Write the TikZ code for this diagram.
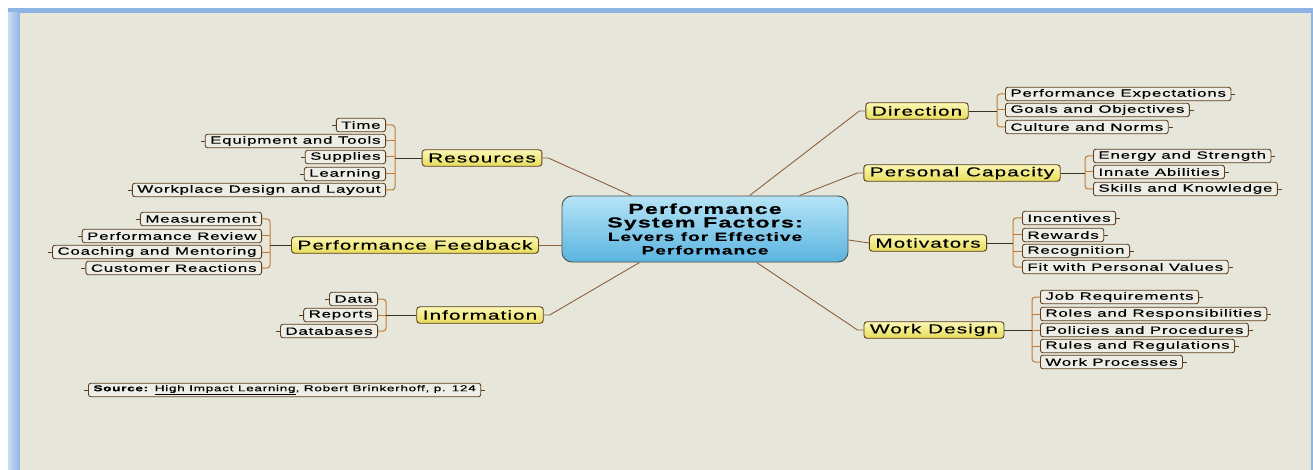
\documentclass[tikz,border=0pt]{standalone}
\usepackage{fontspec}
\setmainfont[FakeStretch=1.6,LetterSpace=8,FakeBold=0.35]{Liberation Sans}
\usetikzlibrary{positioning,calc,shapes}
\definecolor{pagebg}{HTML}{E6E7DA}
\definecolor{framebl}{HTML}{8DB4E2}
\definecolor{leaffill}{HTML}{EEEEE6}
\definecolor{leafline}{HTML}{5C3D1E}
\definecolor{bracecol}{HTML}{C07A36}
\definecolor{linkcol}{HTML}{3E3222}
\definecolor{spokecol}{HTML}{8A6040}
\definecolor{yellowtop}{HTML}{FBF8B4}
\definecolor{yellowbot}{HTML}{E6DC5C}
\definecolor{coretop}{HTML}{B6E4F6}
\definecolor{corebot}{HTML}{5AB4E0}
\begin{document}
\begin{tikzpicture}[x=1pt,y=-1pt,
        leaf/.style={draw=leafline,fill=leaffill,rounded corners=2.5pt,line width=0.9pt,
            inner xsep=5pt,inner ysep=0pt,minimum height=13.5pt,font=\fontsize{10.5}{12}\selectfont},
        branch/.style={draw=leafline,top color=yellowtop,bottom color=yellowbot,rounded corners=3pt,
            line width=0.9pt,inner xsep=6pt,inner ysep=0pt,minimum height=16.5pt,font=\fontsize{13}{14}\selectfont},
        brace/.style={draw=bracecol,line width=1pt,rounded corners=3pt},
        link/.style={draw=linkcol,line width=0.8pt},
        spoke/.style={draw=spokecol,line width=0.9pt},
        stub/.style={draw=leafline,line width=0.7pt}]
        % 背景与边框
        \useasboundingbox (0,0) rectangle (1313,470);
        \fill[white] (0,0) rectangle (1313,470);
        \fill[framebl] (8,8) rectangle (1313,470);
        \shade[left color=framebl!45,right color=framebl] (8,13) rectangle (20,470);
        \fill[pagebg] (20,13) rectangle (1311,470);
        % 中心节点
        \node[draw=black!70,line width=0.9pt,rounded corners=10pt,top color=coretop,bottom color=corebot,
            minimum width=286pt,minimum height=66pt,align=center,inner sep=0pt,
            font=\bfseries\fontsize{12}{13.5}\selectfont] (core) at (705,229)
            {{\fontsize{14.5}{14}\selectfont Performance}\\ {\fontsize{14.5}{14}\selectfont System Factors:}\\
             {\fontsize{12}{13}\selectfont Levers for Effective}\\ {\fontsize{12}{13}\selectfont Performance}};
        % 一级分支
        \node[branch] (res)  at (482,158) {Resources};
        \node[branch] (fb)   at (415,245) {Performance Feedback};
        \node[branch] (info) at (480,315) {Information};
        \node[branch] (dir)  at (917,111) {Direction};
        \node[branch] (cap)  at (962,173) {Personal Capacity};
        \node[branch] (mot)  at (928,243) {Motivators};
        \node[branch] (wd)   at (934,330) {Work Design};
        % 左侧叶子
        \node[leaf,anchor=east] (r1) at (386,125) {Time};
        \node[leaf,anchor=east] (r2) at (386,141) {Equipment and Tools};
        \node[leaf,anchor=east] (r3) at (386,157) {Supplies};
        \node[leaf,anchor=east] (r4) at (386,174) {Learning};
        \node[leaf,anchor=east] (r5) at (386,190) {Workplace Design and Layout};
        \node[leaf,anchor=east] (f1) at (262,219) {Measurement};
        \node[leaf,anchor=east] (f2) at (262,236) {Performance Review};
        \node[leaf,anchor=east] (f3) at (262,252) {Coaching and Mentoring};
        \node[leaf,anchor=east] (f4) at (262,268) {Customer Reactions};
        \node[leaf,anchor=east] (i1) at (378,299) {Data};
        \node[leaf,anchor=east] (i2) at (378,315) {Reports};
        \node[leaf,anchor=east] (i3) at (378,331) {Databases};
        % 右侧叶子
        \node[leaf,anchor=west] (d1) at (1005,94)  {Performance Expectations};
        \node[leaf,anchor=west] (d2) at (1005,110) {Goals and Objectives};
        \node[leaf,anchor=west] (d3) at (1005,127) {Culture and Norms};
        \node[leaf,anchor=west] (c1) at (1093,156) {Energy and Strength};
        \node[leaf,anchor=west] (c2) at (1093,172) {Innate Abilities};
        \node[leaf,anchor=west] (c3) at (1093,189) {Skills and Knowledge};
        \node[leaf,anchor=west] (m1) at (1022,218) {Incentives};
        \node[leaf,anchor=west] (m2) at (1022,235) {Rewards};
        \node[leaf,anchor=west] (m3) at (1022,251) {Recognition};
        \node[leaf,anchor=west] (m4) at (1022,267) {Fit with Personal Values};
        \node[leaf,anchor=west] (w1) at (1040,297) {Job Requirements};
        \node[leaf,anchor=west] (w2) at (1040,314) {Roles and Responsibilities};
        \node[leaf,anchor=west] (w3) at (1040,330) {Policies and Procedures};
        \node[leaf,anchor=west] (w4) at (1040,346) {Rules and Regulations};
        \node[leaf,anchor=west] (w5) at (1040,362) {Work Processes};
        % 出处
        \node[leaf,anchor=west,font=\fontsize{8.5}{10}\selectfont] (src) at (88,390)
            {\textbf{Source:} \underline{High Impact Learning}, Robert Brinkerhoff, p. 124};
        % 括号汇合点
        \coordinate (rbr) at (395,158);
        \coordinate (fbr) at (270,245);
        \coordinate (ibr) at (386,315);
        \coordinate (dbr) at (997,111);
        \coordinate (cbr) at (1085,173);
        \coordinate (mbr) at (1013,243);
        \coordinate (wbr) at (1032,330);
        % 左侧括号
        \draw[brace] (r1.east) -| (rbr) |- (r5.east);
        \draw[brace] (f1.east) -| (fbr) |- (f4.east);
        \draw[brace] (i1.east) -| (ibr) |- (i3.east);
        \foreach \n/\b in {r2/rbr,r3/rbr,r4/rbr,f2/fbr,f3/fbr,i2/ibr}
            \draw[brace] (\n.east) -- (\n.east -| \b);
        % 右侧括号
        \draw[brace] (d1.west) -| (dbr) |- (d3.west);
        \draw[brace] (c1.west) -| (cbr) |- (c3.west);
        \draw[brace] (m1.west) -| (mbr) |- (m4.west);
        \draw[brace] (w1.west) -| (wbr) |- (w5.west);
        \foreach \n/\b in {d2/dbr,c2/cbr,m2/mbr,m3/mbr,w2/wbr,w3/wbr,w4/wbr}
            \draw[brace] (\n.west) -- (\n.west -| \b);
        % 分支到括号
        \draw[link] (res.west) -- (rbr);
        \draw[link] (fb.west) -- (fbr);
        \draw[link] (info.west) -- (ibr);
        \draw[link] (dir.east) -- (dbr);
        \draw[link] (cap.east) -- (cbr);
        \draw[link] (mot.east) -- (mbr);
        \draw[link] (wd.east) -- (wbr);
        % 叶子外侧小钩
        \foreach \n in {r1,r2,r3,r4,r5,f1,f2,f3,f4,i1,i2,i3,src}
            \draw[stub] (\n.west) -- ++(-4,0);
        \foreach \n in {d1,d2,d3,c1,c2,c3,m1,m2,m3,m4,w1,w2,w3,w4,w5,src}
            \draw[stub] (\n.east) -- ++(4,0);
        % 中心到一级分支
        \draw[spoke] (res.east) -- ++(6,0) -- ($(core.north west)+(70,0)$);
        \draw[spoke] (fb.east) -- ($(core.west)+(0,16)$);
        \draw[spoke] (info.east) -- ++(6,0) -- ($(core.south west)+(78,0)$);
        \draw[spoke] (dir.west) -- ++(-6,0) -- ($(core.north west)+(188,0)$);
        \draw[spoke] (cap.west) -- ++(-6,0) -- ($(core.north west)+(238,0)$);
        \draw[spoke] (mot.west) -- ($(core.east)+(0,11)$);
        \draw[spoke] (wd.west) -- ++(-6,0) -- ($(core.south west)+(195,0)$);
    \end{tikzpicture}
\end{document}
